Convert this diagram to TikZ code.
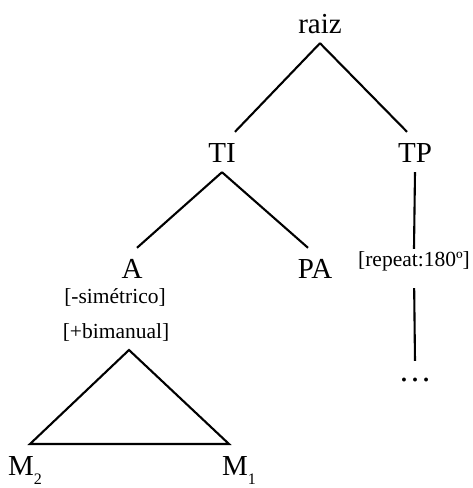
\documentclass[tikz,border=0pt]{standalone}
\usepackage{fontspec}
\setmainfont{Liberation Serif}
\usetikzlibrary{positioning}

\newcommand{\lowsub}[1]{\raisebox{-9.5pt}{\fontsize{16}{16}\selectfont #1}}

\begin{document}
\begin{tikzpicture}[x=1pt,y=-1pt,
	tree/.style={font=\fontsize{29}{32}\selectfont, anchor=base, inner xsep=0pt, inner ysep=10pt, text height=20pt, text depth=0pt},
	feat/.style={font=\fontsize{21.5}{24}\selectfont, anchor=base, inner xsep=0pt, inner ysep=2pt, text height=15pt, text depth=5pt},
	branch/.style={line width=2.1pt}]
			\useasboundingbox (0,0) rectangle (472,488);
			
			\node [tree] (raiz) at (320,33) {raiz};
			\node [tree] (TI) at (222,162) {TI};
			\node [tree] (TP) at (415,162) {TP};
			\node [tree] (A) at (132,278) {A};
			\node [tree] (PA) at (315,278) {PA};
			
			\node [feat] (sim) at (115,303) {[-simétrico]};
			\node [feat] (bim) at (116,338) {[+bimanual]};
			\node [feat] (rep) at (414,266) {[repeat:180º]};
			\node [tree,font=\fontsize{33}{34}\selectfont,text height=10pt] (dots) at (415,381) {…};
			
			\node [tree,anchor=base west] (M2) at (8,475) {M\lowsub{2}};
			\node [tree,anchor=base west] (M1) at (222,475) {M\lowsub{1}};
			
			\draw [branch] (raiz.south) -- ([xshift=13pt]TI.north);
			\draw [branch] (raiz.south) -- ([xshift=-8pt]TP.north);
			\draw [branch] (TI.south) -- ([xshift=5pt]A.north);
			\draw [branch] (TI.south) -- ([xshift=-7pt]PA.north);
			
			\draw [branch] (TP.south) -- (rep.north);
			\draw [branch,shorten <=15pt] (rep.south) -- (dots.north);
			
			% triangle over M2 and M1
			\coordinate (apex) at (129,350);
			\coordinate (mleft) at (30,444);
			\coordinate (mright) at (229,444);
			\draw [branch] (apex) -- (mleft) -- (mright) -- cycle;
\end{tikzpicture}
\end{document}
